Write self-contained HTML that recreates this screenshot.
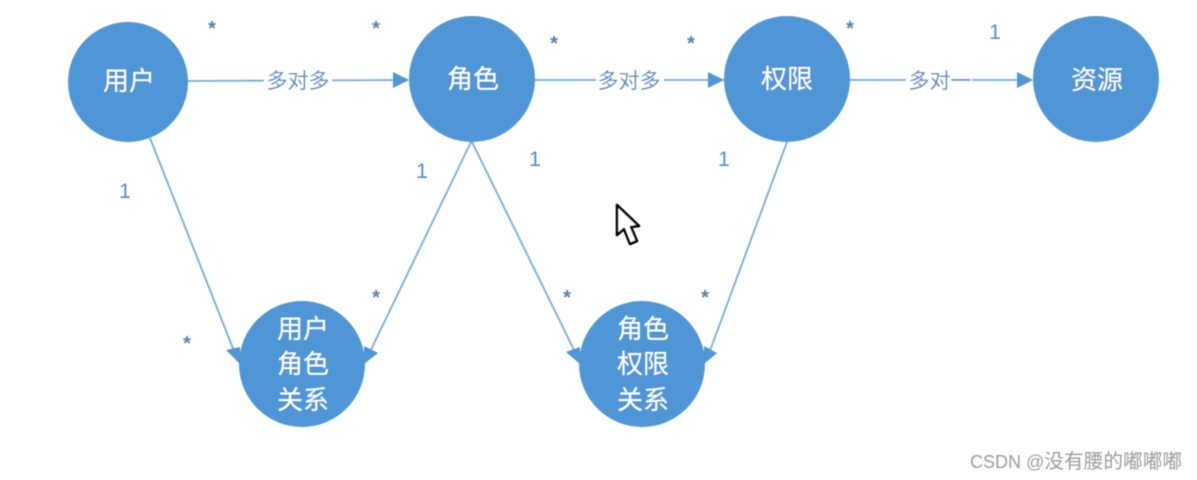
<!DOCTYPE html>
<html>
<head>
<meta charset="utf-8">
<style>
html,body{margin:0;padding:0;background:#fff;}
body{width:1197px;height:480px;overflow:hidden;}
svg{display:block;}
text{font-family:"Liberation Sans","Noto Sans CJK SC",sans-serif;}
.n{fill:#fff;font-size:26px;text-anchor:middle;}
.c{fill:#4a8ac8;font-size:21px;text-anchor:middle;}
.o{fill:#4f8ecf;font-size:21px;text-anchor:middle;}
.s{fill:#5d7fa6;font-size:20px;font-weight:bold;text-anchor:middle;}
.l{stroke:#76abdc;stroke-width:1.8;fill:none;}
.a{fill:#4f94d4;}
.b{fill:#5096d6;}
</style>
</head>
<body>
<svg width="1197" height="480" viewBox="0 0 1197 480" xmlns="http://www.w3.org/2000/svg">
<defs><filter id="f" x="-5%" y="-5%" width="110%" height="110%"><feGaussianBlur stdDeviation="0.45"/></filter></defs>
<g filter="url(#f)">
<g class="l">
<path d="M187 81L408 80"/>
<path d="M534 80L724 80"/>
<path d="M849 80L1032 80"/>
<path d="M150 138L236 356"/>
<path d="M471 142L367 358"/>
<path d="M472 142L578 358"/>
<path d="M787 142L708 356"/>
</g>
<rect x="264" y="68" width="68" height="26" fill="#fff"/>
<rect x="596" y="68" width="68" height="26" fill="#fff"/>
<rect x="906" y="68" width="66" height="26" fill="#fff"/>
<g class="a">
<polygon points="409,80 393,72 393,88"/>
<polygon points="724,80 708,72 708,88"/>
<polygon points="1033,80 1017,72 1017,88"/>
<polygon points="226,350 240,347 240,364"/>
<polygon points="378,353 364,346 364,364"/>
<polygon points="566,352 580,347 580,364"/>
<polygon points="717,353 704,346 704,364"/>
</g>
<g class="b">
<circle cx="128" cy="82" r="60"/>
<circle cx="472" cy="79" r="63"/>
<circle cx="787" cy="79" r="63"/>
<circle cx="1096" cy="79" r="63"/>
<circle cx="302" cy="364" r="63"/>
<circle cx="642" cy="364" r="63"/>
</g>
<text class="n" x="129" y="90">用户</text>
<text class="n" x="473" y="88">角色</text>
<text class="n" x="787" y="88">权限</text>
<text class="n" x="1097" y="89">资源</text>
<text class="n" x="303" y="338">用户</text>
<text class="n" x="303" y="373">角色</text>
<text class="n" x="303" y="409">关系</text>
<text class="n" x="643" y="338">角色</text>
<text class="n" x="643" y="373">权限</text>
<text class="n" x="643" y="409">关系</text>
<text class="c" x="298" y="88">多对多</text>
<text class="c" x="629" y="88">多对多</text>
<text class="c" x="940" y="88">多对一</text>
<text class="o" x="125" y="198">1</text>
<text class="o" x="422" y="178">1</text>
<text class="o" x="535" y="166">1</text>
<text class="o" x="724" y="166">1</text>
<text class="o" x="995" y="39">1</text>
<text class="s" x="212" y="35">*</text>
<text class="s" x="376" y="35">*</text>
<text class="s" x="554" y="50">*</text>
<text class="s" x="691" y="50">*</text>
<text class="s" x="850" y="35">*</text>
<text class="s" x="187" y="350">*</text>
<text class="s" x="376" y="304">*</text>
<text class="s" x="567" y="304">*</text>
<text class="s" x="705" y="304">*</text>
<path d="M617 205L617 235L624 229L630 244L637 241L631 227L639 226Z" fill="#fff" stroke="#000" stroke-width="2.6" stroke-linejoin="round"/>
<text x="970" y="468" font-size="18" fill="#9c9c9c">CSDN @<tspan font-size="19.7">没有腰的嘟嘟嘟</tspan></text>
</g>
</svg>
</body>
</html>
